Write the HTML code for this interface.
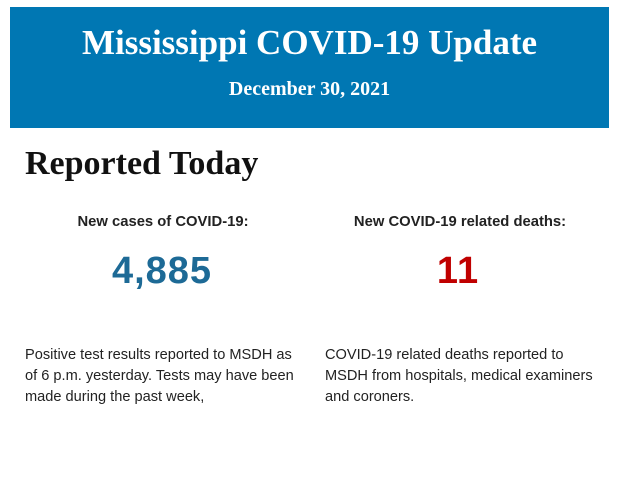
<!DOCTYPE html>
<html><head><style>
body{margin:0;width:620px;height:483px;background:#fff;position:relative;overflow:hidden}
.b{position:absolute;left:10px;top:7px;width:599px;height:121px;background:#0077b3;color:#fff;font-family:"Liberation Serif",serif;font-weight:bold;text-align:center}
.t{position:absolute;left:0;right:0;top:16px;font-size:35px;line-height:40px}
.d{position:absolute;left:0;right:0;top:70px;font-size:20px;line-height:24px}
.h{position:absolute;left:25px;top:145px;font-family:"Liberation Serif",serif;font-weight:bold;font-size:34px;line-height:38px;color:#111}
.l{position:absolute;font-family:"Liberation Sans",sans-serif;font-weight:bold;font-size:14.8px;top:214px;text-align:center;width:300px;color:#222}
.n{position:absolute;font-family:"Liberation Sans",sans-serif;font-weight:bold;font-size:38px;letter-spacing:1px;top:250px;text-align:center;width:300px}
.p{position:absolute;font-family:"Liberation Sans",sans-serif;font-size:14.6px;line-height:21px;top:345px;color:#222}
</style></head><body>
<div class="b"><div class="t">Mississippi COVID-19 Update</div><div class="d">December 30, 2021</div></div>
<div class="h">Reported Today</div>
<div class="l" style="left:13px">New cases of COVID-19:</div>
<div class="l" style="left:310px">New COVID-19 related deaths:</div>
<div class="n" style="left:12px;color:#1d6a96">4,885</div>
<div class="n" style="left:308px;color:#c00000">11</div>
<div class="p" style="left:25px;width:280px">Positive test results reported to MSDH as of 6 p.m. yesterday. Tests may have been made during the past week,</div>
<div class="p" style="left:325px;width:275px">COVID-19 related deaths reported to<br>MSDH from hospitals, medical examiners and coroners.</div>
</body></html>
